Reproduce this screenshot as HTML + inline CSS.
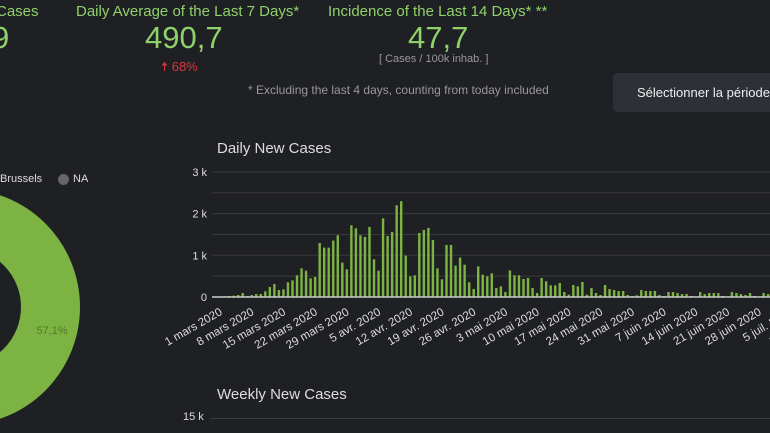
<!DOCTYPE html>
<html><head><meta charset="utf-8"><style>
body{margin:0;width:770px;height:433px;background:#1f2024;overflow:hidden;font-family:"Liberation Sans",sans-serif;position:relative}
.a{position:absolute;white-space:nowrap}
</style></head><body>
<div class="a" style="left:-4px;top:3px;color:#8fd16a;font-size:15px">Cases</div>
<div class="a" style="left:-8px;top:20px;color:#8fd16a;font-size:31px">9</div>
<div class="a" style="left:76px;top:3px;color:#8fd16a;font-size:15px">Daily Average of the Last 7 Days*</div>
<div class="a" style="left:145px;top:20px;color:#8fd16a;font-size:31px">490,7</div>
<div class="a" style="left:161px;top:58px;color:#d9363e;font-size:13px">🠅 68%</div>
<div class="a" style="left:328px;top:3px;color:#8fd16a;font-size:15px">Incidence of the Last 14 Days* **</div>
<div class="a" style="left:408px;top:20px;color:#8fd16a;font-size:31px">47,7</div>
<div class="a" style="left:379px;top:53px;color:#999;font-size:11px">[ Cases / 100k inhab. ]</div>
<div class="a" style="left:248px;top:83px;color:#999;font-size:12px">* Excluding the last 4 days, counting from today included</div>
<div class="a" style="left:613px;top:73px;width:170px;height:39px;background:#2e3038;border-radius:5px;color:#eee;font-size:13px;line-height:39px;padding-left:24px;box-sizing:border-box">Sélectionner la période</div>
<div class="a" style="left:0;top:173px;color:#ddd;font-size:11px">Brussels</div>
<div class="a" style="left:58px;top:174px;width:11px;height:11px;border-radius:50%;background:#666"></div>
<div class="a" style="left:73px;top:173px;color:#ddd;font-size:11px">NA</div>
<svg class="a" style="left:0;top:0" width="770" height="433">
<circle cx="-38" cy="307" r="88.5" fill="none" stroke="#7cb342" stroke-width="59"/>
<text x="52" y="334" fill="#4f7a2a" font-size="11" font-family="Liberation Sans" text-anchor="middle">57,1%</text>
</svg>
<div class="a" style="left:217px;top:140px;color:#ddd;font-size:15px">Daily New Cases</div>
<div class="a" style="left:217px;top:386px;color:#ddd;font-size:15px">Weekly New Cases</div>
<div class="a" style="left:183px;top:411px;color:#ddd;font-size:11px">15 k</div>
<div class="a" style="left:210px;top:418px;width:560px;height:1px;background:#3a3b40"></div>
<svg id="chart" class="a" style="left:0;top:0" width="770" height="433"></svg>
<script>
const values=[16,16,24,32,48,96,24,48,72,72,136,240,312,168,184,352,400,520,688,632,448,480,1296,1184,1184,1352,1480,824,664,1720,1648,1480,1440,1680,904,632,1888,1464,1560,2200,2296,992,496,520,1536,1608,1656,1368,688,424,1248,1248,752,944,776,352,192,736,536,496,568,216,256,120,640,520,520,432,456,216,96,456,376,280,280,336,120,56,288,256,360,56,216,96,48,288,192,168,144,144,48,24,40,168,144,144,144,48,24,120,120,96,72,72,24,5,120,72,96,96,96,24,8,120,96,72,48,96,24,8,96,72];
const yTicks=[0,1000,2000,3000];
const yTickLabels=["0","1 k","2 k","3 k"];
const xLabels=["1 mars 2020","8 mars 2020","15 mars 2020","22 mars 2020","29 mars 2020","5 avr. 2020","12 avr. 2020","19 avr. 2020","26 avr. 2020","3 mai 2020","10 mai 2020","17 mai 2020","24 mai 2020","31 mai 2020","7 juin 2020","14 juin 2020","21 juin 2020","28 juin 2020","5 juil. 2020","12 juil. 2020"];
const svg=document.getElementById('chart');const NS="http://www.w3.org/2000/svg";
const y0=297,pxPer=41.7/1000,x0=220,dx=4.53;
const Y=v=>y0-v*pxPer, X=i=>x0+i*dx;
function mk(t,a){const e=document.createElementNS(NS,t);for(const k in a)e.setAttribute(k,a[k]);svg.appendChild(e);return e;}
for(let v=500;v<=3000;v+=500){const g=mk('line',{x1:212,x2:770,y1:Y(v),y2:Y(v),stroke:'#38393e','stroke-width':1});

}
yTicks.forEach((v,i)=>{const t=mk('text',{x:207,y:Y(v)+4,fill:'#ddd','font-size':11,'text-anchor':'end','font-family':'Liberation Sans'});t.textContent=yTickLabels[i];

});
values.forEach((v,i)=>{const x=X(i);if(x>772)return;const r=mk('rect',{x:x-1.2,y:Y(v),width:2.4,height:Math.max(0.5,v*pxPer),fill:'#7cb342'});

});
const ax=mk('line',{x1:212,x2:770,y1:y0,y2:y0,stroke:'#ccc','stroke-width':1.5});


xLabels.forEach((l,i)=>{const x=X(i*7)+3,y=y0+17;const t=mk('text',{x:x,y:y,fill:'#ddd','font-size':11.5,'text-anchor':'end','font-family':'Liberation Sans',transform:`rotate(-30 ${x} ${y})`});t.textContent=l;

});
</script>
</body></html>
